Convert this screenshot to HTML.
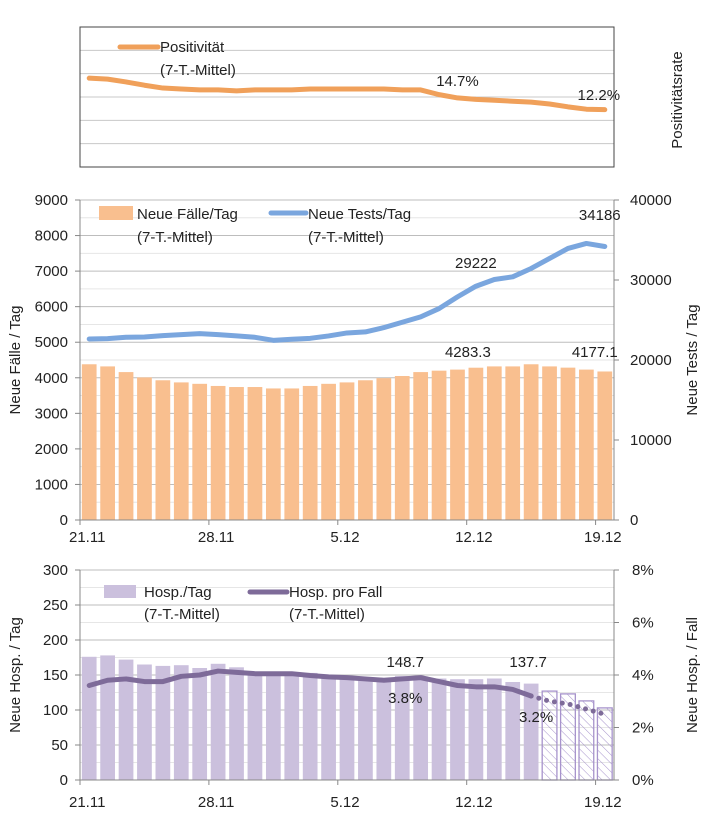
<!DOCTYPE html>
<html><head><meta charset="utf-8">
<style>
body{margin:0;background:#fff;}
svg{display:block;font-family:"Liberation Sans",sans-serif;}
text{fill:#222;}
</style></head>
<body>
<svg id="c" width="709" height="833" viewBox="0 0 709 833">
<defs>
<pattern id="hatch" width="6" height="6" patternUnits="userSpaceOnUse" patternTransform="rotate(-45)">
<line x1="0" y1="0" x2="0" y2="6" stroke="#a793cc" stroke-width="1"/>
</pattern>
</defs>
</svg>
<script>
const dates = ["21.11","28.11","5.12","12.12","19.12"];
const positivity = [18.9,18.7,18.1,17.4,16.8,16.6,16.4,16.4,16.2,16.4,16.4,16.4,16.6,16.6,16.6,16.6,16.6,16.4,16.4,15.4,14.7,14.4,14.2,14.0,13.8,13.4,12.8,12.3,12.2];
const cases = [4380,4320,4160,4010,3930,3870,3830,3770,3740,3740,3700,3700,3770,3830,3870,3930,3990,4050,4160,4200,4230,4283.3,4320,4320,4380,4320,4285,4230,4177.1];
const tests = [22630,22670,22840,22880,23050,23170,23300,23170,23010,22840,22460,22590,22710,23010,23380,23510,24050,24720,25390,26430,27890,29222,30060,30400,31440,32690,33950,34570,34186];
const hosp = [176,178,172,165,163,164,160,166,161,155,153,153,153,150,146,145,142,148.7,148,145,144,144,145,140,137.7,127,123,113,103];
const hospPerCase = [3.6,3.8,3.85,3.75,3.75,3.95,4.0,4.15,4.1,4.05,4.05,4.05,3.98,3.93,3.9,3.85,3.8,3.85,3.9,3.75,3.6,3.55,3.55,3.45,3.2];
const hospPerCaseProj = [3.2,3.0,2.9,2.7,2.5];
const leftTicksMid = [0,1000,2000,3000,4000,5000,6000,7000,8000,9000];
const rightTicksMid = [0,10000,20000,30000,40000];
const leftTicksBot = [0,50,100,150,200,250,300];
const rightTicksBot = ["0%","2%","4%","6%","8%"];

const svg = document.getElementById('c');
const NS = "http://www.w3.org/2000/svg";
function el(tag, attrs, parent){ const e=document.createElementNS(NS,tag); for(const k in attrs) e.setAttribute(k,attrs[k]); (parent||svg).appendChild(e); return e; }
function txt(s, x, y, anchor, size, parent){ const t=el('text',{x:x,y:y,'text-anchor':anchor||'start','font-size':size||15},parent); t.textContent=s; return t; }

const X0=80, X1=614, N=29, BW=(X1-X0)/N;
const xc = i => X0 + (i+0.5)*BW;

// ---------- top panel ----------
const T0=27, T1=167;
const yP = p => T1 - p*4.7;
const gTop = el('g',{});


for(let k=1;k<6;k++){ const y=T0+k*(T1-T0)/6; el('line',{x1:X0,x2:X1,y1:y,y2:y,stroke:'#c8c8c8'},gTop); }
el('rect',{x:X0,y:T0,width:X1-X0,height:T1-T0,fill:'none',stroke:'#444'},gTop);
const pl = el('polyline',{points:positivity.map((v,i)=>xc(i)+','+yP(v)).join(' '),fill:'none',stroke:'#f0a05a','stroke-width':5,'stroke-linejoin':'round','stroke-linecap':'round'},gTop);


el('line',{x1:120,x2:158,y1:47,y2:47,stroke:'#f0a05a','stroke-width':5,'stroke-linecap':'round'},gTop);
txt('Positivität',160,52,'start',15,gTop);
txt('(7-T.-Mittel)',160,75,'start',15,gTop);
txt(positivity[20].toFixed(1)+'%',xc(20),86,'middle',15,gTop);
txt(positivity[28].toFixed(1)+'%',xc(28)-6,100,'middle',15,gTop);
const pt = txt('Positivitätsrate',0,0,'middle',15,gTop); pt.setAttribute('transform','translate(682,100) rotate(-90)');

// ---------- middle panel ----------
const M0=200, M1=520;
const yL = v => M1 - v/9000*(M1-M0);
const yR = v => M1 - v/40000*(M1-M0);
const gMid = el('g',{});


for(let v=500; v<=9000; v+=500){ const y=yL(v); el('line',{x1:X0,x2:X1,y1:y,y2:y,stroke:(v%1000===0)?'#bdbdbd':'#e6e6e6'},gMid); }
cases.forEach((v,i)=>{
  const r=el('rect',{x:xc(i)-BW*0.4,y:yL(v),width:BW*0.8,height:M1-yL(v),fill:'#f9bf8f'},gMid);
  
  
});
const tl = el('polyline',{points:tests.map((v,i)=>xc(i)+','+yR(v)).join(' '),fill:'none',stroke:'#7aa6de','stroke-width':5,'stroke-linejoin':'round','stroke-linecap':'round'},gMid);


el('line',{x1:X0,x2:X0,y1:M0,y2:M1,stroke:'#888'},gMid);
el('line',{x1:X1,x2:X1,y1:M0,y2:M1,stroke:'#888'},gMid);
el('line',{x1:X0,x2:X1,y1:M1,y2:M1,stroke:'#888'},gMid);
leftTicksMid.forEach(v=>{ el('line',{x1:X0-5,x2:X0,y1:yL(v),y2:yL(v),stroke:'#888'},gMid); txt(String(v),68,yL(v)+5,'end',15,gMid); });
rightTicksMid.forEach(v=>{ el('line',{x1:X1,x2:X1+5,y1:yR(v),y2:yR(v),stroke:'#888'},gMid); txt(String(v),630,yR(v)+5,'start',15,gMid); });
for(let k=0;k<=4;k++){ const x=X0+k*7*BW; el('line',{x1:x,x2:x,y1:M1,y2:M1+5,stroke:'#888'},gMid); }
dates.forEach((d,k)=>txt(d,xc(k*7)-2,542,'middle',15,gMid));
el('rect',{x:99,y:206,width:34,height:14,fill:'#f9bf8f'},gMid);
txt('Neue Fälle/Tag',137,219,'start',15,gMid);
txt('(7-T.-Mittel)',137,242,'start',15,gMid);
el('line',{x1:271,x2:306,y1:213,y2:213,stroke:'#7aa6de','stroke-width':5,'stroke-linecap':'round'},gMid);
txt('Neue Tests/Tag',308,219,'start',15,gMid);
txt('(7-T.-Mittel)',308,242,'start',15,gMid);
txt(String(tests[21]),xc(21),268,'middle',15,gMid);
txt(String(tests[28]),xc(28)-5,220,'middle',15,gMid);
txt(cases[21].toFixed(1),xc(21)-8,357,'middle',15,gMid);
txt(cases[28].toFixed(1),xc(28)-10,357,'middle',15,gMid);
const a1=txt('Neue Fälle / Tag',0,0,'middle',15,gMid); a1.setAttribute('transform','translate(20,360) rotate(-90)');
const a2=txt('Neue Tests / Tag',0,0,'middle',15,gMid); a2.setAttribute('transform','translate(697,360) rotate(-90)');

// ---------- bottom panel ----------
const B0=570, B1=780;
const yH = v => B1 - v/300*(B1-B0);
const yF = v => B1 - v/8*(B1-B0);
const gBot = el('g',{});


for(let v=25; v<=300; v+=25){ const y=yH(v); el('line',{x1:X0,x2:X1,y1:y,y2:y,stroke:(v%50===0)?'#bdbdbd':'#e6e6e6'},gBot); }
hosp.forEach((v,i)=>{
  const proj = i>=25;
  const r=el('rect',{x:xc(i)-BW*0.4,y:yH(v),width:BW*0.8,height:B1-yH(v),fill:proj?'url(#hatch)':'#cbc0dd',stroke:proj?'#a793cc':'none','stroke-width':1.3},gBot);
  
  
});
const hl=el('polyline',{points:hospPerCase.map((v,i)=>xc(i)+','+yF(v)).join(' '),fill:'none',stroke:'#7e6b99','stroke-width':5,'stroke-linejoin':'round','stroke-linecap':'round'},gBot);


const hd=el('polyline',{points:hospPerCaseProj.map((v,i)=>xc(i+24)+','+yF(v)).join(' '),fill:'none',stroke:'#7e6b99','stroke-width':5,'stroke-dasharray':'0 8','stroke-linecap':'round'},gBot);


el('line',{x1:X0,x2:X0,y1:B0,y2:B1,stroke:'#888'},gBot);
el('line',{x1:X1,x2:X1,y1:B0,y2:B1,stroke:'#888'},gBot);
el('line',{x1:X0,x2:X1,y1:B1,y2:B1,stroke:'#888'},gBot);
leftTicksBot.forEach(v=>{ el('line',{x1:X0-5,x2:X0,y1:yH(v),y2:yH(v),stroke:'#888'},gBot); txt(String(v),68,yH(v)+5,'end',15,gBot); });
rightTicksBot.forEach((s,k)=>{ const y=yF(k*2); el('line',{x1:X1,x2:X1+5,y1:y,y2:y,stroke:'#888'},gBot); txt(s,632,y+5,'start',15,gBot); });
for(let k=0;k<=4;k++){ const x=X0+k*7*BW; el('line',{x1:x,x2:x,y1:B1,y2:B1+5,stroke:'#888'},gBot); }
dates.forEach((d,k)=>txt(d,xc(k*7)-2,807,'middle',15,gBot));
el('rect',{x:104,y:585,width:32,height:13,fill:'#cbc0dd'},gBot);
txt('Hosp./Tag',144,597,'start',15,gBot);
txt('(7-T.-Mittel)',144,619,'start',15,gBot);
el('line',{x1:250,x2:287,y1:592,y2:592,stroke:'#7e6b99','stroke-width':5,'stroke-linecap':'round'},gBot);
txt('Hosp. pro Fall',289,597,'start',15,gBot);
txt('(7-T.-Mittel)',289,619,'start',15,gBot);
txt(hosp[17].toFixed(1),xc(17)+3,667,'middle',15,gBot);
txt(hosp[24].toFixed(1),xc(24)-3,667,'middle',15,gBot);
txt(hospPerCase[16].toFixed(1)+'%',xc(17)+3,703,'middle',15,gBot);
txt(hospPerCase[24].toFixed(1)+'%',xc(24)+5,722,'middle',15,gBot);
const a3=txt('Neue Hosp. / Tag',0,0,'middle',15,gBot); a3.setAttribute('transform','translate(20,675) rotate(-90)');
const a4=txt('Neue Hosp. / Fall',0,0,'middle',15,gBot); a4.setAttribute('transform','translate(697,675) rotate(-90)');
</script>
</body></html>
